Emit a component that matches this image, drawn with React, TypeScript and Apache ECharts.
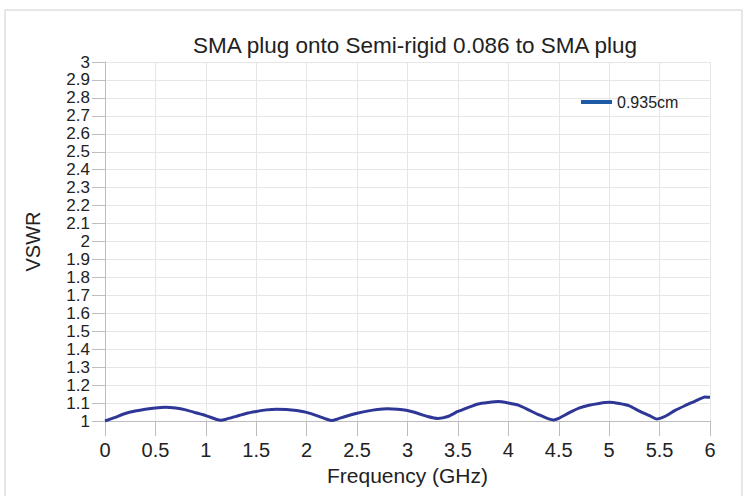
import React, { useEffect, useRef } from "react";
import * as echarts from "echarts";

const titleText = "SMA plug onto Semi-rigid 0.086 to SMA plug";
const seriesName = "0.935cm";
const xAxisName = "Frequency (GHz)";
const yAxisName = "VSWR";

const freqGHz = [
  0, 0.1, 0.2, 0.3, 0.4, 0.5, 0.6, 0.7, 0.8, 0.9, 1.0, 1.1, 1.15, 1.2, 1.3, 1.4,
  1.5, 1.6, 1.7, 1.8, 1.9, 2.0, 2.1, 2.2, 2.25, 2.3, 2.4, 2.5, 2.6, 2.7, 2.8,
  2.9, 3.0, 3.1, 3.2, 3.3, 3.4, 3.5, 3.6, 3.7, 3.8, 3.9, 4.0, 4.1, 4.2, 4.3,
  4.4, 4.45, 4.5, 4.6, 4.7, 4.8, 4.9, 5.0, 5.1, 5.2, 5.3, 5.4, 5.47, 5.55,
  5.65, 5.75, 5.85, 5.95, 6.0,
];
const vswr = [
  1.0, 1.02, 1.042, 1.056, 1.066, 1.073, 1.076, 1.072, 1.062, 1.046, 1.03,
  1.01, 1.004, 1.01, 1.026, 1.042, 1.053, 1.062, 1.066, 1.064, 1.058, 1.048,
  1.03, 1.01, 1.003, 1.01, 1.028, 1.043, 1.055, 1.064, 1.068, 1.066, 1.058,
  1.043, 1.025, 1.014, 1.025, 1.053, 1.075, 1.095, 1.103, 1.108, 1.1, 1.088,
  1.062, 1.035, 1.012, 1.006, 1.015, 1.045, 1.072, 1.088, 1.098, 1.104, 1.097,
  1.084, 1.055, 1.03, 1.011, 1.025, 1.058, 1.085, 1.11, 1.134, 1.132,
];

export default function App() {
  const ref = useRef<HTMLDivElement>(null);
  useEffect(() => {
    if (!ref.current) return;
    const chart = echarts.init(ref.current, null, { renderer: "svg" });
    const font = "'Liberation Sans', Arial, Helvetica, sans-serif";
    chart.setOption({
      animation: false,
      backgroundColor: "#fff",
      textStyle: { fontFamily: font },
      graphic: [
        {
          type: "rect",
          shape: { x: 5, y: 10, width: 737, height: 500 },
          style: { fill: "none", stroke: "#cfcfcf", lineWidth: 1 },
          silent: true,
        },
      ],
      title: {
        text: titleText,
        left: 188,
        top: 29,
        textStyle: { fontSize: 22.5, fontWeight: "normal", color: "#222", fontFamily: font },
      },
      legend: {
        left: 581,
        top: 94,
        padding: 0,
        icon: "rect",
        itemWidth: 31,
        itemHeight: 4,
        itemGap: 6,
        textStyle: { fontSize: 16, color: "#222", fontFamily: font },
        data: [{ name: seriesName, itemStyle: { color: "#1f5aa6" } }],
      },
      grid: { left: 105, right: 36, top: 62, bottom: 75, containLabel: false },
      xAxis: {
        type: "value",
        min: 0,
        max: 6,
        interval: 0.5,
        name: xAxisName,
        nameLocation: "middle",
        nameGap: 43,
        nameTextStyle: { fontSize: 21, color: "#222", fontFamily: font },
        axisLine: { show: true, lineStyle: { color: "#bdbdbd" } },
        axisTick: { show: true, length: 15, lineStyle: { color: "#bdbdbd" } },
        axisLabel: { fontSize: 20, color: "#222", margin: 19, fontFamily: font },
        splitLine: { show: true, lineStyle: { color: "#e6e6e6" } },
      },
      yAxis: {
        type: "value",
        min: 1,
        max: 3,
        interval: 0.1,
        name: yAxisName,
        nameLocation: "middle",
        nameGap: 62,
        nameTextStyle: { fontSize: 20, color: "#222", fontFamily: font },
        axisLine: { show: true, lineStyle: { color: "#bdbdbd" } },
        axisTick: { show: true, length: 13, lineStyle: { color: "#bdbdbd" } },
        axisLabel: {
          fontSize: 17,
          color: "#222",
          margin: 15,
          fontFamily: font,
          formatter: (v: number) => String(parseFloat(v.toFixed(1))),
        },
        splitLine: { show: true, lineStyle: { color: "#e6e6e6" } },
      },
      series: [
        {
          name: seriesName,
          type: "line",
          data: freqGHz.map((f, i) => [f, vswr[i]]),
          showSymbol: false,
          symbol: "none",
          smooth: 0.15,
          lineStyle: { color: "#2f3796", width: 3 },
          itemStyle: { color: "#2f3796" },
        },
      ],
    });
    return () => chart.dispose();
  }, []);
  return (
    <div
      ref={ref}
      style={{ position: "fixed", left: 0, top: 0, width: 746, height: 496 }}
    />
  );
}
